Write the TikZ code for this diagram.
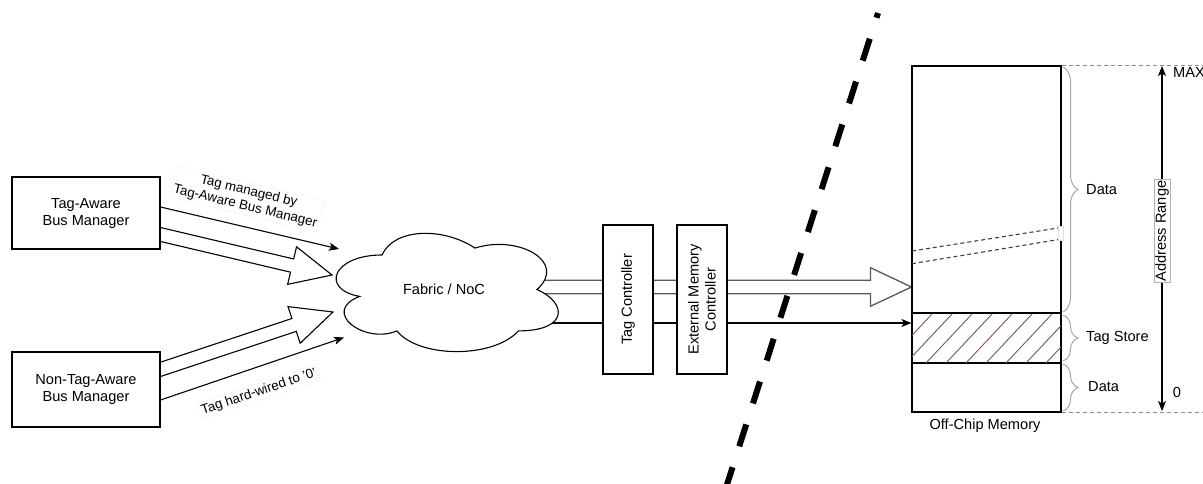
\documentclass[tikz,border=0pt]{standalone}
\usepackage{fontspec}
\setmainfont{Liberation Sans}
\usetikzlibrary{arrows.meta,calc,decorations.pathreplacing,backgrounds}

\definecolor{hatchbrown}{RGB}{125,85,85}
\newcommand\mainsz{\fontsize{14.6}{17}\selectfont}
\newcommand\smallsz{\fontsize{13.4}{15.5}\selectfont}

% open block arrow from #2 to the tip #3, extra style #1
\newcommand\blockarrow[3][]{%
  \coordinate (ba-h) at ($(#3)!41pt!(#2)$);
  \draw[block,#1] ($(#2)!6.8pt!90:(#3)$) -- ($(ba-h)!6.8pt!90:(#3)$)
    -- ($(ba-h)!19.3pt!90:(#3)$) -- (#3) -- ($(ba-h)!19.3pt!-90:(#3)$)
    -- ($(ba-h)!6.8pt!-90:(#3)$) -- ($(#2)!6.8pt!-90:(#3)$);
}

\begin{document}
\begin{tikzpicture}[x=1pt,y=-1pt,
  every node/.style={font=\mainsz},
  box/.style={draw, line width=1.1pt, fill=white, align=center, inner sep=0pt},
  wire/.style={line width=1.1pt, -{Stealth[length=10pt,width=8pt,inset=2.5pt]}},
  block/.style={draw, line width=1.1pt, fill=white, line join=miter},
  tagnote/.style={font=\smallsz, fill=white, draw=black!18, densely dotted, align=center, inner sep=2pt},
  membrace/.style={draw=black!35, line width=1pt, decorate, decoration={brace, amplitude=15pt}},
  guide/.style={draw=black!45, line width=1pt, dash pattern=on 4pt off 3pt},
]
\useasboundingbox (0,0) rectangle (1203,484);

% bus managers
\node[box, minimum width=148pt, minimum height=72pt] (tagaware) at (86,213) {Tag-Aware\\Bus Manager};
\node[box, minimum width=148pt, minimum height=75pt] (nontag) at (86,389.5) {Non-Tag-Aware\\Bus Manager};

% fabric cloud
\draw[line width=1.1pt, fill=white] (382,255)
  .. controls (332.4,255) and (320,289.5) .. (359.7,296.4)
  .. controls (320,311.6) and (364.6,344.7) .. (396.9,330.9)
  .. controls (419.2,358.5) and (493.6,358.5) .. (518.4,330.9)
  .. controls (568,330.9) and (568,303.3) .. (537,289.5)
  .. controls (568,261.9) and (518.4,234.3) .. (475,248.1)
  .. controls (444,227.4) and (394.4,227.4) .. (382,255) -- cycle;
\node (fabric) at (444,289.5) {Fabric / NoC};

% controllers
\node[box, minimum width=50pt, minimum height=149pt] (tagctl) at (628,299.5) {};
\node[rotate=90] at (tagctl.center) {Tag Controller};
\node[box, minimum width=50pt, minimum height=149pt] (extmem) at (702,299.5) {};
\node[rotate=90, align=center] at (extmem.center) {External Memory\\Controller};

% off-chip memory
\node[box, minimum width=149pt, minimum height=346pt] (mem) at (986.5,239) {};
\node[draw, line width=1.1pt, minimum width=149pt, minimum height=49pt, inner sep=0pt] (tagstore) at (986.5,338) {};
\begin{scope}
  \clip (tagstore.south west) rectangle (tagstore.north east);
  \foreach \k in {0,...,11}
    \draw[hatchbrown, line width=0.9pt] (866+20*\k,363) -- (913+20*\k,313);
\end{scope}
\draw[line width=1.1pt] (tagstore.south west) rectangle (tagstore.north east);
\node[anchor=north] at (985,415) {Off-Chip Memory};

% cut marks in the upper data region
\draw[black!75, line width=1.1pt, dash pattern=on 4pt off 3pt] (912,251) -- (1060,227.7);
\draw[black!75, line width=1.1pt, dash pattern=on 4pt off 3pt] (912,263.7) -- (1060,239.3);
\draw[draw=black!12, fill=white, line width=0.6pt] (1058.5,226.5) rectangle (1063.5,240.5);

% region braces and labels
\draw[membrace] (1063,67) -- (1063,312);
\draw[membrace] (1063,315) -- (1063,361);
\draw[membrace] (1063,364) -- (1063,411);
\node[anchor=west, inner sep=0pt] (d1) at (1086,190) {Data};
\node[anchor=west, inner sep=0pt] (ts) at (1086,337.5) {Tag Store};
\node[anchor=west, inner sep=0pt] (d2) at (1088,387) {Data};

% address range
\draw[guide] (mem.north east) -- ++(150,0);
\draw[guide] (mem.south east) -- ++(150,0);
\coordinate (amax) at (1162,66);
\coordinate (amin) at (1162,411);
\draw[line width=1.1pt, {Stealth[length=10pt,width=8pt,inset=2.5pt]}-{Stealth[length=10pt,width=8pt,inset=2.5pt]}] (amax) -- (amin);
\node[rotate=90, fill=white, draw=black!30, line width=0.6pt, inner sep=1pt] (arange) at (1162,231) {Address Range};
\node[anchor=west, inner sep=0pt] at (1173,72) {MAX};
\node at (1177,392.5) {0};

% connectors behind the boxes
\begin{pgfonlayer}{background}
  \coordinate (ta-tag) at ($(tagaware.east)+(0,-6)$);
  \coordinate (ta-s) at ($(tagaware.east)+(-8,19.6)$);
  \coordinate (ta-tip) at (332,275);
  \coordinate (ta-tagtip) at (339,249);
  \coordinate (nt-s) at ($(nontag.east)+(-8,-17.5)$);
  \coordinate (nt-tip) at (333,312);
  \coordinate (nt-tag) at ($(nontag.east)+(0,10.5)$);
  \coordinate (nt-tagtip) at (344,337.5);
  \coordinate (fb-s) at (520,287);
  \coordinate (fb-tag) at (530,323);
  \coordinate (mem-tip) at ($(mem.west)+(0,48)$);
  \coordinate (mem-tag) at ($(mem.west)+(0,84)$);
  \draw[wire] (ta-tag) -- (ta-tagtip);
  \blockarrow{ta-s}{ta-tip}
  \blockarrow{nt-s}{nt-tip}
  \draw[wire] (nt-tag) -- (nt-tagtip);
  \blockarrow[draw=black!65, line width=1.3pt]{fb-s}{mem-tip}
  \draw[wire] (fb-tag) -- (mem-tag);
\end{pgfonlayer}

% notes on the manager connectors
\node[tagnote, rotate=-13.5] (note1) at (247,199) {Tag managed by\\Tag-Aware Bus Manager};
\node[tagnote, rotate=18.5] (note2) at (259,392) {Tag hard-wired to '0'};

% on-chip / off-chip boundary
\coordinate (cut-top) at (878,13);
\coordinate (cut-bot) at (723,497);
\draw[line width=6pt, dash pattern=on 23pt off 22pt, dash phase=18pt] (cut-top) -- (cut-bot);
\end{tikzpicture}
\end{document}
